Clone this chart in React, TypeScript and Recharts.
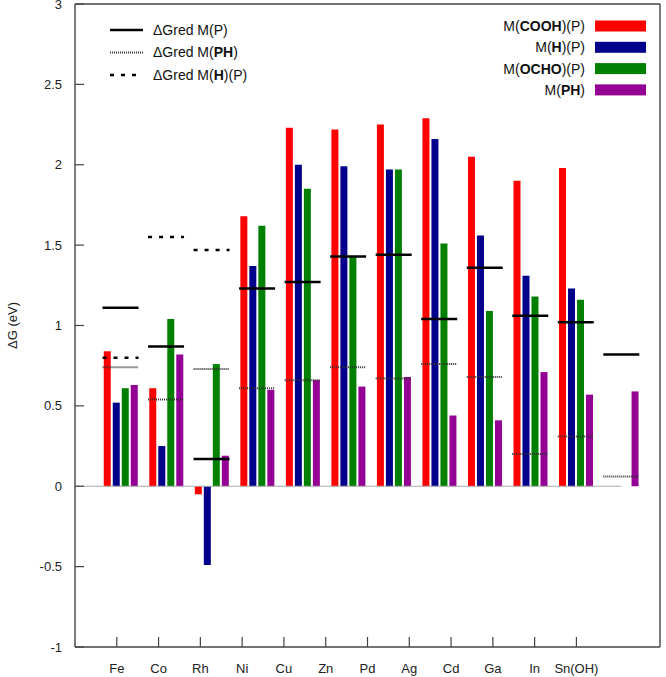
import React from 'react';
import { ComposedChart, Bar, Scatter, XAxis, YAxis, ReferenceLine, Legend } from 'recharts';

// metals along the x axis
const categories = ['Fe', 'Co', 'Rh', 'Ni', 'Cu', 'Zn', 'Pd', 'Ag', 'Cd', 'Ga', 'In', 'Sn(OH)'];

// bar series (eV)
const coohP = [0.84, 0.61, -0.05, 1.68, 2.23, 2.22, 2.25, 2.29, 2.05, 1.9, 1.98, null];
const hP = [0.52, 0.25, -0.49, 1.37, 2.0, 1.99, 1.97, 2.16, 1.56, 1.31, 1.23, null];
const ochoP = [0.61, 1.04, 0.76, 1.62, 1.85, 1.43, 1.97, 1.51, 1.09, 1.18, 1.16, null];
const mPH = [0.63, 0.82, 0.19, 0.6, 0.66, 0.62, 0.68, 0.44, 0.41, 0.71, 0.57, 0.59];

// ΔGred markers (eV)
const gredP = [1.11, 0.87, 0.17, 1.23, 1.27, 1.43, 1.44, 1.04, 1.36, 1.06, 1.02, 0.82];
const gredPH = [0.74, 0.54, 0.73, 0.61, 0.66, 0.74, 0.67, 0.76, 0.68, 0.2, 0.31, 0.06];
const gredHP = [0.8, 1.55, 1.47, null, null, null, null, null, null, null, null, null];

const yTicks = [-1, -0.5, 0, 0.5, 1, 1.5, 2, 2.5, 3];
const xTicks = categories.map((_, i) => i + 1);

const RED = '#ff0000';
const NAVY = '#00008b';
const GREEN = '#008000';
const PURPLE = '#930093';
const AXIS = '#444';
const FONT = '"Liberation Sans", Arial, sans-serif';

const BAR_DOMAIN = [-1, 11.85];
const TICK_DOMAIN = [0, 14];
const Y_DOMAIN = [-1, 3];

const data = categories.map((name, i) => ({
  x: i,
  pos: i + 1,
  name,
  cooh: coohP[i],
  h: hP[i],
  ocho: ochoP[i],
  ph: mPH[i],
}));

const toPoints = (arr: (number | null)[]) =>
  arr.map((y, i) => (y == null ? null : { x: i, y })).filter(Boolean) as { x: number; y: number }[];

// short horizontal marker spanning a metal's bar group
const markShape = (stroke: string, width: number, dash?: string) => (props: any) => {
  const { cx, cy } = props;
  if (cx == null || cy == null) return <g />;
  return (
    <line x1={cx - 18} x2={cx + 18} y1={cy} y2={cy} stroke={stroke} strokeWidth={width} strokeDasharray={dash} />
  );
};

const YTick = (props: any) => {
  const { y, payload } = props;
  return (
    <g>
      <path d={`M75,${y}H84`} stroke={AXIS} strokeWidth={1.2} fill="none" />
      <text x={62} y={y} dy="0.35em" textAnchor="end" fontSize={13} fill="#222" fontFamily={FONT}>
        {payload.value}
      </text>
    </g>
  );
};

const XTick = (props: any) => {
  const { x, payload } = props;
  return (
    <g>
      <path d={`M${x},637V647`} stroke={AXIS} strokeWidth={1.2} fill="none" />
      <text x={x} y={673} textAnchor="middle" fontSize={13} fill="#222" fontFamily={FONT}>
        {categories[payload.value - 1]}
      </text>
    </g>
  );
};

const leftItems = [
  { pre: 'ΔGred M(', bold: 'P', post: ')', boldOn: false, dash: undefined, color: '#000', w: 2.5 },
  { pre: 'ΔGred M(', bold: 'PH', post: ')', boldOn: true, dash: '1 1', color: '#333', w: 2 },
  { pre: 'ΔGred M(', bold: 'H', post: ')(P)', boldOn: true, dash: '4 7', color: '#000', w: 2.5 },
];

const rightItems = [
  { pre: 'M(', bold: 'COOH', post: ')(P)', color: RED },
  { pre: 'M(', bold: 'H', post: ')(P)', color: NAVY },
  { pre: 'M(', bold: 'OCHO', post: ')(P)', color: GREEN },
  { pre: 'M(', bold: 'PH', post: ')', color: PURPLE },
];

const renderLegend = () => (
  <svg width={666} height={110} style={{ display: 'block' }}>
    {leftItems.map((it, i) => {
      const y = 30 + i * 22.5;
      return (
        <g key={i}>
          <line x1={110} x2={143} y1={y} y2={y} stroke={it.color} strokeWidth={it.w} strokeDasharray={it.dash} />
          <text x={153} y={y} dy="0.35em" fontSize={14} fill="#111" fontFamily={FONT}>
            <tspan>{it.pre}</tspan>
            <tspan fontWeight={it.boldOn ? 'bold' : 'normal'}>{it.bold}</tspan>
            <tspan>{it.post}</tspan>
          </text>
        </g>
      );
    })}
    {rightItems.map((it, i) => {
      const y = 26 + i * 21.3;
      return (
        <g key={i}>
          <text x={585} y={y} dy="0.35em" textAnchor="end" fontSize={14} fill="#111" fontFamily={FONT}>
            <tspan>{it.pre}</tspan>
            <tspan fontWeight="bold">{it.bold}</tspan>
            <tspan>{it.post}</tspan>
          </text>
          <rect x={595} y={y - 5.5} width={51} height={11} fill={it.color} />
        </g>
      );
    })}
  </svg>
);

const frame = [
  [{ x: BAR_DOMAIN[0], y: Y_DOMAIN[0] }, { x: BAR_DOMAIN[1], y: Y_DOMAIN[0] }],
  [{ x: BAR_DOMAIN[0], y: Y_DOMAIN[1] }, { x: BAR_DOMAIN[1], y: Y_DOMAIN[1] }],
  [{ x: BAR_DOMAIN[0], y: Y_DOMAIN[0] }, { x: BAR_DOMAIN[0], y: Y_DOMAIN[1] }],
  [{ x: BAR_DOMAIN[1], y: Y_DOMAIN[0] }, { x: BAR_DOMAIN[1], y: Y_DOMAIN[1] }],
];

export default function App() {
  return (
    <div style={{ position: 'absolute', left: 0, top: 0, width: 666, height: 677, background: '#fff' }}>
      <ComposedChart
        width={666}
        height={677}
        data={data}
        margin={{ top: 4, right: 6, bottom: 0, left: 0 }}
        barSize={7}
        barGap={2}
        style={{ fontFamily: FONT }}
      >
        <XAxis
          xAxisId="bars"
          dataKey="x"
          type="number"
          orientation="top"
          domain={BAR_DOMAIN}
          allowDataOverflow
          hide
        />
        <XAxis
          xAxisId="ticks"
          dataKey="pos"
          type="number"
          domain={TICK_DOMAIN}
          ticks={xTicks}
          allowDataOverflow
          height={30}
          tickLine={false}
          axisLine={false}
          tick={<XTick />}
          interval={0}
        />
        <YAxis
          type="number"
          domain={Y_DOMAIN}
          ticks={yTicks}
          allowDataOverflow
          width={75}
          tickLine={false}
          axisLine={false}
          interval={0}
          tick={<YTick />}
          label={{
            content: (p: any) => {
              const vb = p.viewBox || { x: 0, y: 4, width: 75, height: 643 };
              const cy = vb.y + vb.height / 2;
              return (
                <text
                  x={12}
                  y={cy}
                  textAnchor="middle"
                  dy="0.35em"
                  fontSize={13}
                  fill="#222"
                  fontFamily={FONT}
                  transform={`rotate(-90 12 ${cy})`}
                >
                  ΔG (eV)
                </text>
              );
            },
          }}
        />
        <ReferenceLine
          xAxisId="bars"
          segment={[{ x: BAR_DOMAIN[0], y: 0 }, { x: 11, y: 0 }]}
          stroke="#aaa"
          strokeWidth={1.2}
          ifOverflow="visible"
        />
        <Bar xAxisId="bars" dataKey="cooh" fill={RED} isAnimationActive={false} />
        <Bar xAxisId="bars" dataKey="h" fill={NAVY} isAnimationActive={false} />
        <Bar xAxisId="bars" dataKey="ocho" fill={GREEN} isAnimationActive={false} />
        <Bar xAxisId="bars" dataKey="ph" fill={PURPLE} isAnimationActive={false} />
        <Scatter
          xAxisId="bars"
          data={toPoints(gredP)}
          dataKey="y"
          shape={markShape('#000', 2.5)}
          isAnimationActive={false}
        />
        <Scatter
          xAxisId="bars"
          data={toPoints(gredPH)}
          dataKey="y"
          shape={markShape('#333', 2, '1 1')}
          isAnimationActive={false}
        />
        <Scatter
          xAxisId="bars"
          data={toPoints(gredHP)}
          dataKey="y"
          shape={markShape('#000', 2.5, '4 7')}
          isAnimationActive={false}
        />
        {frame.map((seg, i) => (
          <ReferenceLine
            key={`f${i}`}
            xAxisId="bars"
            segment={seg}
            stroke={AXIS}
            strokeWidth={1.4}
            ifOverflow="visible"
          />
        ))}
        <Legend
          layout="vertical"
          align="center"
          verticalAlign="middle"
          content={renderLegend}
          wrapperStyle={{ position: 'absolute', left: 0, top: 0, width: 666, height: 110 }}
        />
      </ComposedChart>
    </div>
  );
}
